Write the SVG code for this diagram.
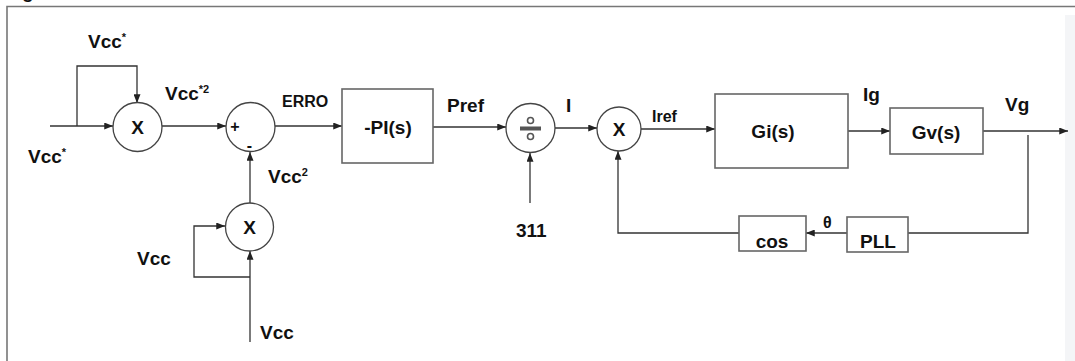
<svg xmlns="http://www.w3.org/2000/svg" width="1075" height="361" viewBox="0 0 1075 361">
<defs>
<marker id="ah" viewBox="0 0 10 8" refX="10" refY="4" markerWidth="9" markerHeight="7" markerUnits="userSpaceOnUse" orient="auto">
<path d="M0,0 L10,4 L0,8 Z" fill="#222"/>
</marker>
<style>
.t{font-family:"Liberation Sans",Arial,sans-serif;font-weight:bold;font-size:19px;fill:#111}
.s{font-size:16px}
.sup{font-size:11px}
.blk{fill:#fff;stroke:#666;stroke-width:1.6}
.cir{fill:#fff;stroke:#444;stroke-width:1.3}
.c{fill:none;stroke:#333;stroke-width:1.3}
.ca{fill:none;stroke:#333;stroke-width:1.3;marker-end:url(#ah)}
.fr{fill:none;stroke:#777;stroke-width:1.6}
</style>
</defs>
<rect width="1075" height="361" fill="#fff"/>
<rect x="1065" y="15" width="10" height="346" fill="#f4f5f7"/>
<text class="t" x="22" y="-2" font-size="22">g</text>
<path class="fr" d="M7,361 V6.5 H1075"/>

<g id="connectors">
<path class="ca" d="M50,126 H113"/>
<path class="ca" d="M77,126 V66 H137 V103"/>
<path class="ca" d="M162,126 H226"/>
<path class="ca" d="M275,126 H342"/>
<path class="ca" d="M250,203 V152"/>
<path class="ca" d="M250,342 V251"/>
<path class="ca" d="M250,277 H194 V226 H225"/>
<path class="ca" d="M433,127 H506"/>
<path class="ca" d="M530,203 V153"/>
<path class="ca" d="M555,128 H597"/>
<path class="ca" d="M641,129 H715"/>
<path class="ca" d="M848,131 H890"/>
<path class="ca" d="M983,131 H1068"/>
<path class="c" d="M1028,135 V233 H908"/>
<path class="ca" d="M847,233 H806"/>
<path class="ca" d="M739,233 H618 V151"/>
</g>

<g id="mult1">
<circle class="cir" cx="137.5" cy="127" r="24.5"/>
<text class="t" x="137.5" y="134" text-anchor="middle">X</text>
</g>
<g id="sum">
<circle class="cir" cx="250.5" cy="127" r="24.5"/>
<text class="t s" x="235" y="132" text-anchor="middle">+</text>
<text class="t s" x="249.5" y="151" text-anchor="middle">-</text>
</g>
<g id="mult3">
<circle class="cir" cx="249.5" cy="227" r="24"/>
<text class="t" x="249.5" y="234" text-anchor="middle">X</text>
</g>
<g id="pi">
<rect class="blk" x="342" y="89" width="91" height="74"/>
<text class="t" x="388" y="134" text-anchor="middle">-PI(s)</text>
</g>
<g id="div">
<circle class="cir" cx="530.5" cy="128" r="24.5"/>
<rect x="520" y="126.5" width="21" height="4" fill="#555"/>
<circle cx="530.5" cy="120.5" r="3" fill="#fff" stroke="#555" stroke-width="1.6"/>
<circle cx="530.5" cy="136.5" r="3" fill="#fff" stroke="#555" stroke-width="1.6"/>
</g>
<g id="mult2">
<circle class="cir" cx="619" cy="129" r="22"/>
<text class="t" x="619" y="136" text-anchor="middle">X</text>
</g>
<g id="gi">
<rect class="blk" x="715" y="94" width="133" height="74"/>
<text class="t" x="773" y="138" text-anchor="middle">Gi(s)</text>
</g>
<g id="gv">
<rect class="blk" x="890" y="108" width="93" height="46"/>
<text class="t" x="936" y="139" text-anchor="middle">Gv(s)</text>
</g>
<g id="pll">
<rect class="blk" x="847" y="217" width="61" height="35"/>
<text class="t" x="878" y="248" text-anchor="middle">PLL</text>
</g>
<g id="cos">
<rect class="blk" x="739" y="216" width="67" height="35"/>
<text class="t" x="772" y="248" text-anchor="middle">cos</text>
</g>

<g id="labels">
<text class="t" x="88" y="48">Vcc<tspan class="sup" dy="-7">*</tspan></text>
<text class="t" x="28" y="163">Vcc<tspan class="sup" dy="-7">*</tspan></text>
<text class="t" x="165" y="100">Vcc<tspan class="sup" dy="-7">*2</tspan></text>
<text class="t s" x="282" y="107">ERRO</text>
<text class="t" x="268" y="183">Vcc<tspan class="sup" dy="-7">2</tspan></text>
<text class="t" x="137" y="265">Vcc</text>
<text class="t" x="260" y="339">Vcc</text>
<text class="t" x="447" y="112">Pref</text>
<text class="t" x="566" y="112">I</text>
<text class="t" x="516" y="237">311</text>
<text class="t s" x="652" y="122">Iref</text>
<text class="t" x="863" y="101">Ig</text>
<text class="t" x="1005" y="111">Vg</text>
<text class="t s" x="823" y="228">θ</text>
</g>
</svg>
